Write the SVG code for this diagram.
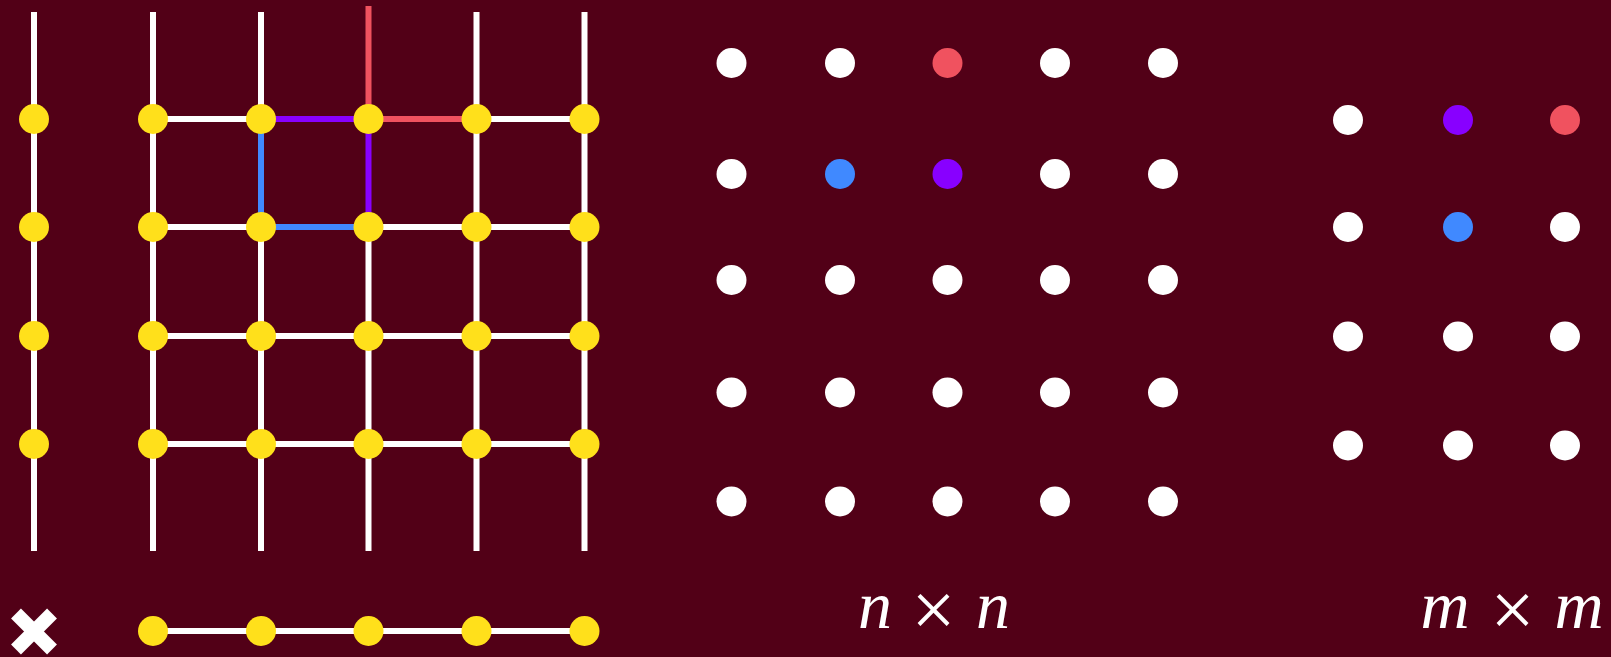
<svg xmlns="http://www.w3.org/2000/svg" width="1611" height="657" viewBox="0 0 1611 657">
<style>
.w{stroke:#ffffff;stroke-width:6;fill:none}
.r{stroke:#f0525f;stroke-width:6;fill:none}
.p{stroke:#8800ff;stroke-width:6;fill:none}
.b{stroke:#4089ff;stroke-width:6;fill:none}
.y{fill:#ffe01b}
.dw{fill:#ffffff}
.dr{fill:#f0525f}
.dp{fill:#8800ff}
.db{fill:#4089ff}
.t{font-family:"Liberation Serif","Times New Roman",serif;font-size:68px;fill:#ffffff;text-anchor:middle}
.it{font-style:italic}
.x{font-size:78px}
</style>
<rect x="0" y="0" width="1611" height="657" fill="#520017"/>
<g id="connectors">
  <line class="w" x1="34" y1="12" x2="34" y2="551"/>
  <line class="w" x1="153" y1="12" x2="153" y2="551"/>
  <line class="w" x1="261" y1="12" x2="261" y2="119"/>
  <line class="b" x1="261" y1="119" x2="261" y2="227"/>
  <line class="w" x1="261" y1="227" x2="261" y2="551"/>
  <line class="r" x1="368.5" y1="6" x2="368.5" y2="119"/>
  <line class="p" x1="368.5" y1="119" x2="368.5" y2="227"/>
  <line class="w" x1="368.5" y1="227" x2="368.5" y2="551"/>
  <line class="w" x1="476.5" y1="12" x2="476.5" y2="551"/>
  <line class="w" x1="584.5" y1="12" x2="584.5" y2="551"/>
  <line class="w" x1="153" y1="119" x2="261" y2="119"/>
  <line class="p" x1="261" y1="119" x2="368.5" y2="119"/>
  <line class="r" x1="368.5" y1="119" x2="476.5" y2="119"/>
  <line class="w" x1="476.5" y1="119" x2="584.5" y2="119"/>
  <line class="w" x1="153" y1="227" x2="261" y2="227"/>
  <line class="b" x1="261" y1="227" x2="368.5" y2="227"/>
  <line class="w" x1="368.5" y1="227" x2="584.5" y2="227"/>
  <line class="w" x1="153" y1="336" x2="584.5" y2="336"/>
  <line class="w" x1="153" y1="444" x2="584.5" y2="444"/>
  <line class="w" x1="153" y1="631" x2="584.5" y2="631"/>
</g>
<g id="left-column">
  <circle class="y" cx="34" cy="119" r="15"/>
  <circle class="y" cx="34" cy="227" r="15"/>
  <circle class="y" cx="34" cy="336" r="15"/>
  <circle class="y" cx="34" cy="444" r="15"/>
</g>
<g id="grid-nodes">
  <circle class="y" cx="153" cy="119" r="15"/><circle class="y" cx="261" cy="119" r="15"/><circle class="y" cx="368.5" cy="119" r="15"/><circle class="y" cx="476.5" cy="119" r="15"/><circle class="y" cx="584.5" cy="119" r="15"/>
  <circle class="y" cx="153" cy="227" r="15"/><circle class="y" cx="261" cy="227" r="15"/><circle class="y" cx="368.5" cy="227" r="15"/><circle class="y" cx="476.5" cy="227" r="15"/><circle class="y" cx="584.5" cy="227" r="15"/>
  <circle class="y" cx="153" cy="336" r="15"/><circle class="y" cx="261" cy="336" r="15"/><circle class="y" cx="368.5" cy="336" r="15"/><circle class="y" cx="476.5" cy="336" r="15"/><circle class="y" cx="584.5" cy="336" r="15"/>
  <circle class="y" cx="153" cy="444" r="15"/><circle class="y" cx="261" cy="444" r="15"/><circle class="y" cx="368.5" cy="444" r="15"/><circle class="y" cx="476.5" cy="444" r="15"/><circle class="y" cx="584.5" cy="444" r="15"/>
</g>
<g id="bottom-row">
  <circle class="y" cx="153" cy="631" r="15"/><circle class="y" cx="261" cy="631" r="15"/><circle class="y" cx="368.5" cy="631" r="15"/><circle class="y" cx="476.5" cy="631" r="15"/><circle class="y" cx="584.5" cy="631" r="15"/>
</g>
<g id="cross">
  <line x1="16" y1="613.5" x2="52" y2="649.5" stroke="#ffffff" stroke-width="14"/>
  <line x1="52" y1="613.5" x2="16" y2="649.5" stroke="#ffffff" stroke-width="14"/>
</g>
<g id="n-grid">
  <circle class="dw" cx="731.5" cy="63" r="15"/><circle class="dw" cx="840" cy="63" r="15"/><circle class="dr" cx="947.5" cy="63" r="15"/><circle class="dw" cx="1055" cy="63" r="15"/><circle class="dw" cx="1163" cy="63" r="15"/>
  <circle class="dw" cx="731.5" cy="174" r="15"/><circle class="db" cx="840" cy="174" r="15"/><circle class="dp" cx="947.5" cy="174" r="15"/><circle class="dw" cx="1055" cy="174" r="15"/><circle class="dw" cx="1163" cy="174" r="15"/>
  <circle class="dw" cx="731.5" cy="280" r="15"/><circle class="dw" cx="840" cy="280" r="15"/><circle class="dw" cx="947.5" cy="280" r="15"/><circle class="dw" cx="1055" cy="280" r="15"/><circle class="dw" cx="1163" cy="280" r="15"/>
  <circle class="dw" cx="731.5" cy="392.5" r="15"/><circle class="dw" cx="840" cy="392.5" r="15"/><circle class="dw" cx="947.5" cy="392.5" r="15"/><circle class="dw" cx="1055" cy="392.5" r="15"/><circle class="dw" cx="1163" cy="392.5" r="15"/>
  <circle class="dw" cx="731.5" cy="501.5" r="15"/><circle class="dw" cx="840" cy="501.5" r="15"/><circle class="dw" cx="947.5" cy="501.5" r="15"/><circle class="dw" cx="1055" cy="501.5" r="15"/><circle class="dw" cx="1163" cy="501.5" r="15"/>
</g>
<g id="m-grid">
  <circle class="dw" cx="1348" cy="120" r="15"/><circle class="dp" cx="1458" cy="120" r="15"/><circle class="dr" cx="1565" cy="120" r="15"/>
  <circle class="dw" cx="1348" cy="227" r="15"/><circle class="db" cx="1458" cy="227" r="15"/><circle class="dw" cx="1565" cy="227" r="15"/>
  <circle class="dw" cx="1348" cy="336.5" r="15"/><circle class="dw" cx="1458" cy="336.5" r="15"/><circle class="dw" cx="1565" cy="336.5" r="15"/>
  <circle class="dw" cx="1348" cy="445.5" r="15"/><circle class="dw" cx="1458" cy="445.5" r="15"/><circle class="dw" cx="1565" cy="445.5" r="15"/>
</g>
<g id="label-n">
  <text class="t" y="628"><tspan class="it" x="875">n</tspan><tspan class="x" x="933.5" dy="8">×</tspan><tspan class="it" x="993" dy="-8">n</tspan></text>
</g>
<g id="label-m">
  <text class="t" y="628"><tspan class="it" x="1445">m</tspan><tspan class="x" x="1512.5" dy="8">×</tspan><tspan class="it" x="1579" dy="-8">m</tspan></text>
</g>
</svg>
